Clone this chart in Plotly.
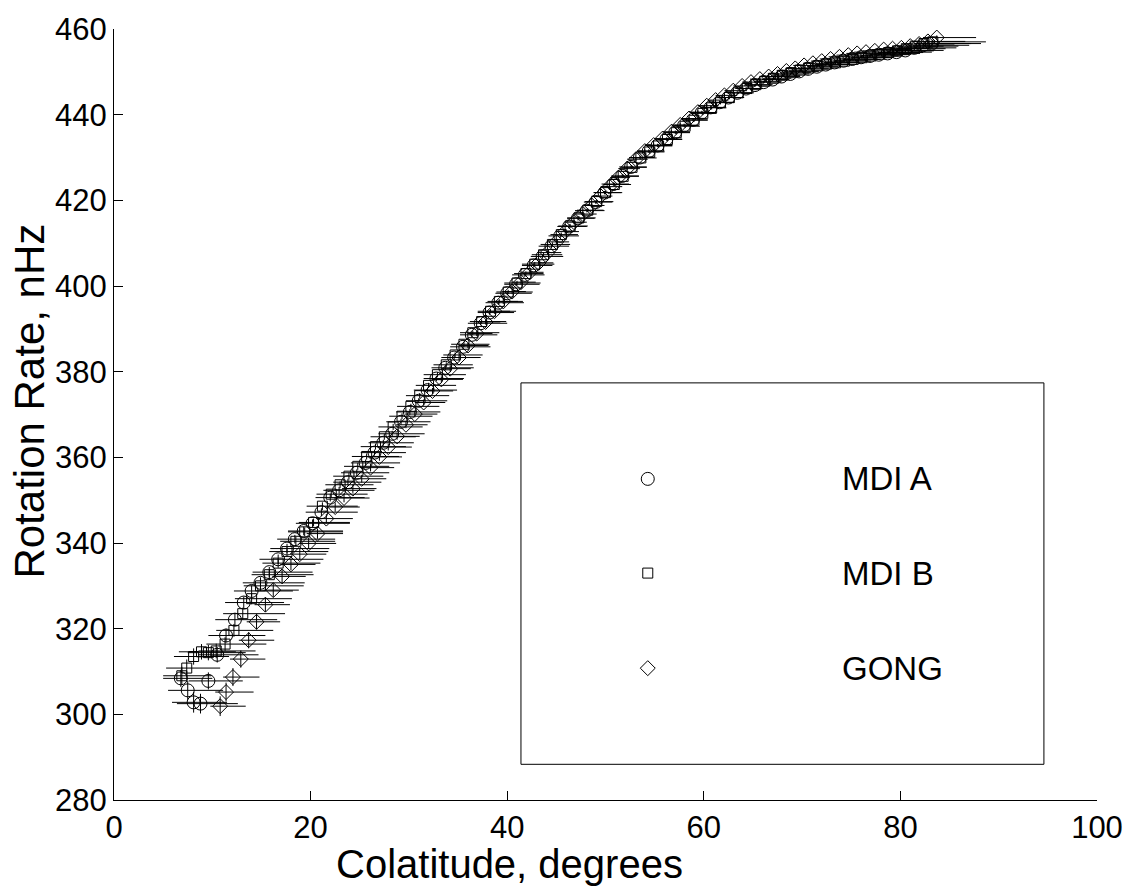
import plotly.graph_objects as go

# ---- MDI A (circles) ----
mdi_a_colat = [
    6.8, 7.5, 8.1, 8.8, 9.6, 10.5, 11.4, 12.3, 13.2, 14.0,
    14.9, 15.8, 16.7, 17.6, 18.4, 19.3, 20.2, 21.1, 22.0, 22.9,
    23.8, 24.7, 25.6, 26.5, 27.4, 28.3, 29.2, 30.1, 31.0, 31.9,
    32.8, 33.7, 34.6, 35.5, 36.4, 37.3, 38.2, 39.1, 40.0, 40.9,
    41.8, 42.7, 43.6, 44.5, 45.4, 46.3, 47.2, 48.1, 49.0, 49.9,
    50.8, 51.7, 52.6, 53.5, 54.4, 55.3, 56.2, 57.1, 58.0, 58.9,
    59.8, 60.7, 61.6, 62.5, 63.4, 64.3, 65.2, 66.1, 67.0, 67.9,
    68.8, 69.7, 70.6, 71.5, 72.4, 73.3, 74.2, 75.1, 76.0, 76.9,
    77.8, 78.7, 79.6, 80.5, 81.4, 82.3, 83.2,
]
mdi_a_rate = [
    308.4, 305.6, 302.8, 302.5, 307.8, 313.9, 318.4, 322.1, 326.1, 328.8,
    330.7, 333.2, 336.2, 338.7, 340.9, 342.8, 344.6, 347.2, 350.6, 352.3,
    354.2, 356.4, 358.7, 361.1, 363.4, 365.5, 368.3, 370.6, 373.2, 375.7,
    378.4, 380.9, 383.3, 385.8, 388.6, 391.3, 393.8, 396.1, 398.3, 400.4,
    402.6, 404.8, 406.9, 409.3, 411.7, 413.9, 415.8, 417.6, 419.6, 421.8,
    423.8, 425.7, 427.8, 430.0, 431.5, 432.8, 434.3, 435.9, 437.5, 438.8,
    440.5, 441.7, 442.9, 444.0, 445.1, 446.1, 446.9, 447.6, 448.2, 448.9,
    449.5, 450.1, 450.7, 451.2, 451.7, 452.2, 452.6, 453.0, 453.4, 453.7,
    454.0, 454.3, 454.6, 455.0, 455.6, 456.2, 456.6,
]
mdi_a_width_hi = [
    3.2, 3.6, 3.4, 3.8, 3.5, 4.2, 4.0, 4.3, 4.1, 4.2,
    4.5, 4.4, 4.6, 4.3, 4.1, 4.0, 3.8, 3.7, 3.5, 3.6,
    3.4, 3.3, 3.5, 3.2, 3.1, 3.3, 3.0, 3.1, 2.9, 3.0,
    2.8, 2.9, 2.7, 2.8, 2.6, 2.7, 2.5, 2.6, 2.5, 2.4,
    2.0, 1.9, 2.1, 1.8, 1.9, 1.8, 1.7, 1.8, 1.7, 1.8,
    1.6, 1.7, 1.6, 1.5, 1.6, 1.5, 1.6, 1.5, 1.4, 1.5,
    1.5, 1.4, 1.5, 1.6, 1.5, 1.7, 1.6, 1.8, 1.7, 1.9,
    1.9, 2.0, 2.1, 2.2, 2.3, 2.4, 2.5, 2.6, 2.8, 2.9,
    3.1, 3.3, 3.6, 3.9, 4.3, 4.7, 5.0,
]
mdi_a_width_lo = [
    1.8, 2.0, 2.2, 2.4, 2.0, 1.9, 1.8, 2.0, 1.9, 1.8,
    1.8, 1.7, 1.9, 1.7, 1.8, 1.6, 1.7, 1.6, 1.5, 1.6,
    1.5, 1.6, 1.5, 1.4, 1.5, 1.4, 1.5, 1.4, 1.3, 1.4,
    1.3, 1.4, 1.3, 1.3, 1.2, 1.3, 1.2, 1.3, 1.2, 1.2,
    1.3, 1.2, 1.2, 1.3, 1.2, 1.2, 1.1, 1.2, 1.2, 1.1,
    1.2, 1.1, 1.2, 1.1, 1.1, 1.2, 1.1, 1.1, 1.0, 1.1,
    1.1, 1.0, 1.1, 1.1, 1.0, 1.1, 1.1, 1.0, 1.1, 1.1,
    1.0, 1.1, 1.1, 1.0, 1.1, 1.1, 1.0, 1.1, 1.1, 1.0,
    1.1, 1.1, 1.0, 1.1, 1.1, 1.0, 1.0,
]
mdi_a_rate_err = [
    2.0, 2.2, 2.4, 2.3, 2.0, 1.8, 1.6, 1.5, 1.4, 1.3,
    1.3, 1.2, 1.1, 1.1, 1.0, 1.0, 0.9, 0.9, 0.9, 0.8,
    0.8, 0.8, 0.8, 0.7, 0.7, 0.7, 0.7, 0.7, 0.6, 0.6,
    0.6, 0.6, 0.6, 0.6, 0.6, 0.5, 0.5, 0.5, 0.5, 0.5,
    0.5, 0.5, 0.5, 0.5, 0.5, 0.5, 0.5, 0.4, 0.4, 0.4,
    0.4, 0.4, 0.4, 0.4, 0.4, 0.4, 0.4, 0.4, 0.4, 0.4,
    0.4, 0.4, 0.4, 0.4, 0.4, 0.3, 0.3, 0.3, 0.3, 0.3,
    0.3, 0.3, 0.3, 0.3, 0.3, 0.3, 0.3, 0.3, 0.3, 0.3,
    0.3, 0.3, 0.3, 0.4, 0.4, 0.5, 0.5,
]

# ---- MDI B (squares) ----
mdi_b_colat = [
    6.9, 7.4, 8.1, 8.9, 9.6, 10.4, 11.3, 12.2, 13.1, 14.0,
    14.9, 15.8, 16.7, 17.6, 18.5, 19.4, 20.3, 21.2, 22.1, 23.0,
    23.9, 24.8, 25.7, 26.6, 27.5, 28.4, 29.3, 30.2, 31.1, 32.0,
    32.9, 33.8, 34.7, 35.6, 36.5, 37.4, 38.3, 39.2, 40.1, 41.0,
    41.9, 42.8, 43.7, 44.6, 45.5, 46.4, 47.3, 48.2, 49.1, 50.0,
    50.9, 51.8, 52.7, 53.6, 54.5, 55.4, 56.3, 57.2, 58.1, 59.0,
    59.9, 60.8, 61.7, 62.6, 63.5, 64.4, 65.3, 66.2, 67.1, 68.0,
    68.9, 69.8, 70.7, 71.6, 72.5, 73.4, 74.3, 75.2, 76.1, 77.0,
    77.9, 78.8, 79.7, 80.6, 81.5, 82.4, 83.3,
]
mdi_b_rate = [
    309.0, 310.8, 313.5, 314.6, 314.4, 314.8, 316.4, 319.6, 323.5, 327.0,
    330.0, 332.6, 335.3, 338.0, 340.4, 342.6, 344.8, 348.6, 351.4, 353.6,
    355.6, 357.9, 360.2, 362.5, 364.8, 367.1, 369.6, 371.9, 374.4, 376.8,
    379.3, 381.6, 383.9, 386.4, 389.1, 391.7, 394.1, 396.4, 398.6, 400.7,
    402.9, 405.1, 407.3, 409.7, 412.0, 414.0, 415.9, 417.7, 419.7, 421.8,
    423.7, 425.6, 427.7, 429.9, 431.3, 432.7, 434.2, 435.8, 437.3, 438.7,
    440.3, 441.6, 442.8, 444.0, 445.1, 446.1, 447.0, 447.8, 448.5, 449.2,
    449.8, 450.4, 450.9, 451.4, 451.8, 452.1, 452.5, 452.9, 453.3, 453.7,
    454.1, 454.5, 454.9, 455.4, 456.0, 456.6, 457.0,
]
mdi_b_width_hi = [
    3.0, 3.4, 3.6, 3.5, 3.8, 4.0, 4.2, 4.0, 4.3, 4.1,
    4.4, 4.5, 4.3, 4.2, 4.0, 3.9, 3.7, 3.6, 3.7, 3.4,
    3.5, 3.2, 3.3, 3.1, 3.2, 3.0, 3.1, 2.9, 3.0, 2.8,
    2.9, 2.7, 2.8, 2.6, 2.7, 2.5, 2.6, 2.4, 2.5, 2.4,
    1.8, 2.0, 1.9, 1.8, 1.7, 1.8, 1.7, 1.6, 1.7, 1.6,
    1.7, 1.6, 1.5, 1.6, 1.5, 1.4, 1.5, 1.4, 1.5, 1.4,
    1.4, 1.5, 1.4, 1.5, 1.6, 1.6, 1.7, 1.7, 1.8, 1.8,
    2.0, 2.1, 2.2, 2.3, 2.4, 2.5, 2.7, 2.8, 2.9, 3.1,
    3.2, 3.5, 3.7, 4.0, 4.4, 4.8, 5.4,
]
mdi_b_width_lo = [
    1.9, 2.1, 2.0, 2.3, 2.1, 1.8, 1.9, 1.8, 2.0, 1.7,
    1.7, 1.8, 1.6, 1.8, 1.6, 1.7, 1.5, 1.6, 1.5, 1.5,
    1.6, 1.4, 1.5, 1.5, 1.4, 1.5, 1.3, 1.4, 1.4, 1.3,
    1.4, 1.3, 1.2, 1.3, 1.3, 1.2, 1.3, 1.2, 1.2, 1.3,
    1.2, 1.3, 1.2, 1.2, 1.1, 1.2, 1.2, 1.1, 1.2, 1.2,
    1.1, 1.2, 1.1, 1.1, 1.2, 1.1, 1.0, 1.1, 1.1, 1.0,
    1.1, 1.1, 1.0, 1.1, 1.1, 1.0, 1.1, 1.1, 1.0, 1.1,
    1.1, 1.0, 1.1, 1.1, 1.0, 1.1, 1.1, 1.0, 1.1, 1.1,
    1.0, 1.1, 1.1, 1.0, 1.1, 1.0, 1.1,
]
mdi_b_rate_err = [
    2.1, 2.0, 1.9, 1.8, 1.8, 1.7, 1.6, 1.5, 1.4, 1.3,
    1.2, 1.2, 1.1, 1.0, 1.0, 1.0, 0.9, 0.9, 0.8, 0.8,
    0.8, 0.8, 0.7, 0.7, 0.7, 0.7, 0.7, 0.6, 0.6, 0.6,
    0.6, 0.6, 0.6, 0.6, 0.5, 0.5, 0.5, 0.5, 0.5, 0.5,
    0.5, 0.5, 0.5, 0.5, 0.5, 0.5, 0.4, 0.4, 0.4, 0.4,
    0.4, 0.4, 0.4, 0.4, 0.4, 0.4, 0.4, 0.4, 0.4, 0.4,
    0.4, 0.4, 0.4, 0.4, 0.3, 0.3, 0.3, 0.3, 0.3, 0.3,
    0.3, 0.3, 0.3, 0.3, 0.3, 0.3, 0.3, 0.3, 0.3, 0.3,
    0.3, 0.3, 0.3, 0.4, 0.4, 0.5, 0.5,
]

# ---- GONG (diamonds) ----
gong_colat = [
    10.8, 11.4, 12.1, 12.9, 13.7, 14.5, 15.4, 16.2, 17.1, 18.0,
    18.9, 19.8, 20.7, 21.6, 22.5, 23.4, 24.3, 25.2, 26.1, 27.0,
    27.9, 28.8, 29.7, 30.6, 31.5, 32.4, 33.3, 34.2, 35.1, 36.0,
    36.9, 37.8, 38.7, 39.6, 40.5, 41.4, 42.3, 43.2, 44.1, 45.0,
    45.9, 46.8, 47.7, 48.6, 49.5, 50.4, 51.3, 52.2, 53.1, 54.0,
    54.9, 55.8, 56.7, 57.6, 58.5, 59.4, 60.3, 61.2, 62.1, 63.0,
    63.9, 64.8, 65.7, 66.6, 67.5, 68.4, 69.3, 70.2, 71.1, 72.0,
    72.9, 73.8, 74.7, 75.6, 76.5, 77.4, 78.3, 79.2, 80.1, 81.0,
    81.9, 82.8, 83.7,
]
gong_rate = [
    301.9, 305.2, 308.7, 312.9, 317.3, 321.6, 325.6, 329.0, 332.2, 335.0,
    337.4, 339.9, 342.2, 345.7, 348.4, 350.5, 352.7, 355.0, 357.6, 360.1,
    362.4, 364.9, 367.6, 370.1, 372.8, 375.5, 378.2, 380.7, 383.3, 386.1,
    388.9, 391.6, 394.1, 396.4, 398.7, 400.9, 403.2, 405.4, 407.8, 410.3,
    412.7, 414.9, 416.8, 418.8, 421.0, 423.2, 425.3, 427.4, 429.6, 431.5,
    432.9, 434.4, 436.0, 437.6, 439.1, 440.6, 442.1, 443.4, 444.5, 445.6,
    446.7, 447.6, 448.3, 448.9, 449.5, 450.2, 450.8, 451.5, 452.0, 452.5,
    453.0, 453.5, 453.9, 454.3, 454.6, 454.9, 455.2, 455.4, 455.6, 456.0,
    456.5, 457.1, 458.0,
]
gong_width_hi = [
    2.6, 2.8, 2.7, 2.5, 2.6, 2.4, 2.5, 2.6, 2.4, 2.5,
    2.7, 2.8, 2.6, 2.7, 2.5, 2.6, 2.4, 2.5, 2.4, 2.3,
    2.4, 2.3, 2.2, 2.3, 2.2, 2.1, 2.2, 2.1, 2.0, 2.1,
    1.6, 1.5, 1.6, 1.5, 1.4, 1.5, 1.4, 1.5, 1.4, 1.3,
    1.4, 1.3, 1.4, 1.3, 1.2, 1.3, 1.2, 1.3, 1.2, 1.2,
    1.2, 1.1, 1.2, 1.2, 1.1, 1.2, 1.2, 1.3, 1.3, 1.4,
    1.4, 1.5, 1.5, 1.6, 1.7, 1.7, 1.8, 1.9, 2.0, 2.1,
    2.2, 2.3, 2.4, 2.5, 2.6, 2.7, 2.9, 3.0, 3.2, 3.4,
    3.6, 3.8, 4.0,
]
gong_width_lo = [
    1.0, 1.1, 1.0, 1.1, 1.0, 1.0, 1.1, 1.0, 1.0, 1.1,
    1.0, 1.0, 1.1, 1.0, 1.0, 1.0, 1.1, 1.0, 1.0, 1.0,
    1.0, 0.9, 1.0, 1.0, 0.9, 1.0, 1.0, 0.9, 1.0, 0.9,
    0.9, 1.0, 0.9, 0.9, 1.0, 0.9, 0.9, 0.9, 1.0, 0.9,
    0.9, 0.9, 0.9, 0.8, 0.9, 0.9, 0.8, 0.9, 0.9, 0.8,
    0.9, 0.8, 0.9, 0.9, 0.8, 0.9, 0.9, 0.8, 0.9, 0.9,
    0.9, 0.9, 1.0, 0.9, 1.0, 1.0, 1.0, 1.1, 1.0, 1.1,
    1.1, 1.1, 1.2, 1.1, 1.2, 1.2, 1.2, 1.3, 1.2, 1.3,
    1.3, 1.4, 1.4,
]
gong_rate_err = [
    2.3, 2.2, 2.1, 2.0, 1.9, 1.8, 1.7, 1.6, 1.5, 1.4,
    1.3, 1.3, 1.2, 1.1, 1.1, 1.0, 1.0, 0.9, 0.9, 0.9,
    0.8, 0.8, 0.8, 0.8, 0.7, 0.7, 0.7, 0.7, 0.7, 0.6,
    0.6, 0.6, 0.6, 0.6, 0.6, 0.5, 0.5, 0.5, 0.5, 0.5,
    0.5, 0.5, 0.5, 0.5, 0.5, 0.5, 0.4, 0.4, 0.4, 0.4,
    0.4, 0.4, 0.4, 0.4, 0.4, 0.4, 0.4, 0.4, 0.4, 0.4,
    0.4, 0.4, 0.4, 0.3, 0.3, 0.3, 0.3, 0.3, 0.3, 0.3,
    0.3, 0.3, 0.3, 0.3, 0.3, 0.3, 0.3, 0.3, 0.3, 0.3,
    0.4, 0.4, 0.5,
]

series_names = ["MDI A", "MDI B", "GONG"]
x_ticks = [0, 20, 40, 60, 80, 100]
y_ticks = [280, 300, 320, 340, 360, 380, 400, 420, 440, 460]

FONT = "Liberation Sans, Arial, Helvetica, sans-serif"
INK = "black"

series = [
    (mdi_a_colat, mdi_a_rate, mdi_a_width_hi, mdi_a_width_lo, mdi_a_rate_err, "circle-open", 13),
    (mdi_b_colat, mdi_b_rate, mdi_b_width_hi, mdi_b_width_lo, mdi_b_rate_err, "square-open", 10),
    (gong_colat, gong_rate, gong_width_hi, gong_width_lo, gong_rate_err, "diamond-open", 11.5),
]

fig = go.Figure()

for name, (cx, cy, whi, wlo, yerr, sym, size) in zip(series_names, series):
    fig.add_trace(go.Scatter(
        x=cx, y=cy, mode="markers", name=name, showlegend=False,
        marker=dict(symbol=sym, size=size, color=INK, line=dict(width=1, color=INK)),
        error_x=dict(type="data", symmetric=False, array=whi, arrayminus=wlo,
                     color=INK, thickness=1, width=0),
        error_y=dict(type="data", array=yerr, color=INK, thickness=1, width=0),
    ))

# Key box: markers on an overlay axis spanning the plotting area (0..1 both ways)
key_marker_x = 0.543
key_rows_y = [0.4165, 0.2943, 0.171]
key_text_x = 0.7386
for name, (_, _, _, _, _, sym, size), ky in zip(series_names, series, key_rows_y):
    fig.add_trace(go.Scatter(
        x=[key_marker_x], y=[ky], mode="markers", showlegend=False, hoverinfo="skip",
        marker=dict(symbol=sym, size=size, color=INK, line=dict(width=1, color=INK)),
        xaxis="x2", yaxis="y2",
    ))
    fig.add_annotation(
        x=key_text_x, y=ky, xref="paper", yref="paper", text=name, showarrow=False,
        xanchor="left", yanchor="middle", font=dict(family=FONT, size=33, color=INK),
    )

fig.add_shape(type="rect", xref="paper", yref="paper",
              x0=0.414, x1=0.946, y0=0.0463, y1=0.541,
              line=dict(color=INK, width=1), fillcolor="rgba(0,0,0,0)")

axis_common = dict(
    showline=True, linecolor=INK, linewidth=1, mirror=False,
    ticks="inside", ticklen=9, tickcolor=INK, tickwidth=1,
    showgrid=False, zeroline=False,
    tickfont=dict(family=FONT, size=31, color=INK),
)

fig.update_layout(
    width=1138, height=890,
    margin=dict(l=114, r=41, t=22, b=90),
    paper_bgcolor="white", plot_bgcolor="white",
    font=dict(family=FONT, color=INK),
    xaxis=dict(range=[0, 100], tickvals=x_ticks, **axis_common),
    yaxis=dict(range=[280, 460], tickvals=y_ticks, **axis_common),
    xaxis2=dict(range=[0, 1], overlaying="x", visible=False, fixedrange=True),
    yaxis2=dict(range=[0, 1], overlaying="y", visible=False, fixedrange=True),
)

fig.add_annotation(
    x=0.402, y=-0.0835, xref="paper", yref="paper", text="Colatitude, degrees",
    showarrow=False, xanchor="center", yanchor="middle",
    font=dict(family=FONT, size=40, color=INK),
)
fig.add_annotation(
    x=-0.0855, y=0.518, xref="paper", yref="paper", text="Rotation Rate, nHz",
    showarrow=False, textangle=-90, xanchor="center", yanchor="middle",
    font=dict(family=FONT, size=42, color=INK),
)

fig.write_html("out.html")
